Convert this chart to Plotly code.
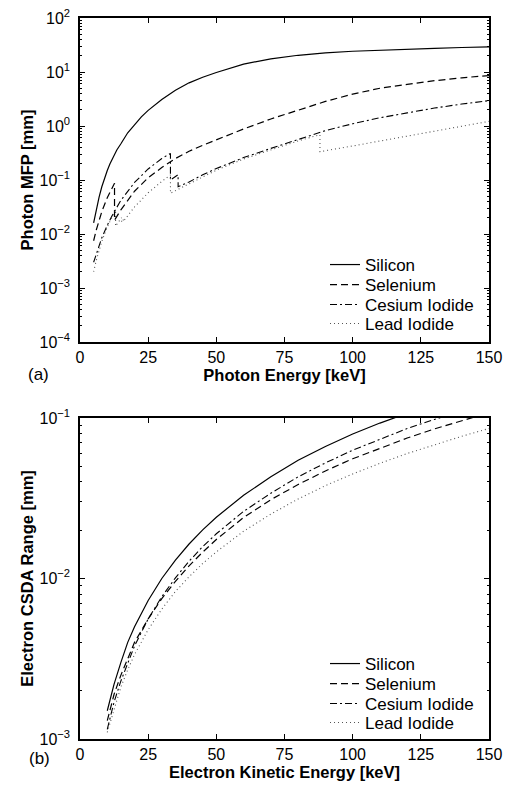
import plotly.graph_objects as go

# ---------------- (a) Photon mean free path ----------------
si_e_a = [5, 5.5, 6, 6.5, 7, 8, 9, 10, 11, 12, 13.5, 15, 17.5, 20, 22.5, 25, 30, 35, 40, 45, 50, 60, 70, 80,
          90, 100, 110, 120, 130, 140, 150]
si_mfp = [0.016, 0.022, 0.030, 0.038, 0.048, 0.075, 0.108, 0.15, 0.20, 0.26, 0.36, 0.47, 0.75, 1.05, 1.48,
          1.95, 3.1, 4.6, 6.3, 8.0, 9.8, 14.0, 17.5, 20.4, 22.6, 24.2, 25.5, 26.6, 27.5, 28.4, 29.3]

se_e_a = [5, 6, 8, 10, 12.66, 12.66, 15, 20, 25, 30, 35, 40, 45, 50, 60, 70, 80, 90, 100, 110, 120, 130, 140, 150]
se_mfp = [0.0075, 0.012, 0.026, 0.047, 0.087, 0.018, 0.028, 0.062, 0.11, 0.17, 0.25, 0.34, 0.44, 0.56, 0.88,
          1.35, 1.95, 2.85, 3.9, 5.0, 5.9, 6.9, 7.8, 8.6]

csi_e_a = [5, 6, 8, 10, 12, 15, 20, 25, 30, 33.17, 33.17, 35.98, 35.98, 40, 45, 50, 60, 70, 80, 90, 100, 110,
           120, 130, 140, 150]
csi_mfp = [0.003, 0.0043, 0.0085, 0.0145, 0.023, 0.042, 0.09, 0.16, 0.25, 0.31, 0.1, 0.125, 0.075, 0.092,
           0.125, 0.163, 0.26, 0.385, 0.56, 0.82, 1.1, 1.42, 1.75, 2.15, 2.55, 2.95]

pbi_e_a = [5, 6, 8, 10, 13.04, 13.04, 15.2, 15.2, 15.86, 15.86, 20, 25, 30, 33.17, 33.17, 40, 50, 60, 70, 80,
           88.0, 88.0, 100, 110, 120, 130, 140, 150]
pbi_mfp = [0.002, 0.0033, 0.0073, 0.0135, 0.028, 0.014, 0.020, 0.017, 0.019, 0.017, 0.0317, 0.058, 0.094,
           0.124, 0.057, 0.085, 0.152, 0.245, 0.365, 0.53, 0.69, 0.335, 0.427, 0.526, 0.649, 0.80, 0.986, 1.22]

# ---------------- (b) Electron CSDA range ----------------
el_e = [10, 12.5, 15, 17.5, 20, 25, 30, 35, 40, 45, 50, 60, 70, 80, 90, 100, 110, 120, 130, 140, 150]
si_csda = [0.0015, 0.0022, 0.0030, 0.0040, 0.0050, 0.0073, 0.0100, 0.0130, 0.0164, 0.0201, 0.0241, 0.0330,
           0.0430, 0.0545, 0.0665, 0.0795, 0.0930, 0.1075, 0.123, 0.139, 0.156]
se_csda = [0.0013, 0.0019, 0.0025, 0.0032, 0.0040, 0.0056, 0.0075, 0.0096, 0.0120, 0.0146, 0.0175, 0.0240,
           0.031, 0.0385, 0.0468, 0.0557, 0.065, 0.075, 0.0855, 0.0965, 0.108]
csi_csda = [0.00115, 0.0017, 0.0023, 0.0030, 0.0038, 0.0056, 0.0077, 0.0101, 0.0128, 0.0158, 0.019, 0.0262,
            0.034, 0.043, 0.0525, 0.063, 0.074, 0.086, 0.098, 0.111, 0.125]
pbi_csda = [0.0011, 0.0015, 0.00211, 0.0027, 0.00336, 0.0048, 0.00645, 0.0083, 0.01025, 0.0124, 0.01465,
            0.0197, 0.0252, 0.0313, 0.0379, 0.0448, 0.0522, 0.0601, 0.0682, 0.0769, 0.0861]

names = ["Silicon", "Selenium", "Cesium Iodide", "Lead Iodide"]
x_ticks = [0, 25, 50, 75, 100, 125, 150]

styles = [
    dict(color="black", width=1.2, dash="solid"),
    dict(color="black", width=1.2, dash="7px,4px"),
    dict(color="black", width=1.1, dash="7px,3px,2px,3px"),
    dict(color="#555555", width=1.1, dash="1px,3px"),
]

W, H = 508, 785
ML, MR, MT, MB = 80, 19, 18, 46
PW, PH = W - ML - MR, H - MT - MB


def px(x):
    return (x - ML) / PW


def py(y):
    return (H - MB - y) / PH


fig = go.Figure()
top = [(si_e_a, si_mfp), (se_e_a, se_mfp), (csi_e_a, csi_mfp), (pbi_e_a, pbi_mfp)]
bot = [si_csda, se_csda, csi_csda, pbi_csda]
legend_layout = {}
top_rows = [265, 285, 305, 324]
bot_rows = [664, 684, 704, 723]
for i, ((xs, ys), nm, st) in enumerate(zip(top, names, styles)):
    key = "legend" if i == 0 else "legend%d" % (i + 1)
    fig.add_trace(go.Scatter(x=xs, y=ys, mode="lines", name=nm, line=st, showlegend=True,
                             xaxis="x", yaxis="y", legend=key))
    legend_layout[key] = dict(x=px(325), y=py(top_rows[i]), xanchor="left", yanchor="middle",
                              bgcolor="rgba(0,0,0,0)", font=dict(size=17), itemwidth=30, visible=True)
for i, (ys, nm, st) in enumerate(zip(bot, names, styles)):
    key = "legend%d" % (i + 5)
    fig.add_trace(go.Scatter(x=el_e, y=ys, mode="lines", name=nm, line=st, showlegend=True,
                             xaxis="x2", yaxis="y2", legend=key))
    legend_layout[key] = dict(x=px(325), y=py(bot_rows[i]), xanchor="left", yanchor="middle",
                              bgcolor="rgba(0,0,0,0)", font=dict(size=17), itemwidth=30, visible=True)


def sup(n):
    return "10<sup>" + (str(n) if n >= 0 else "\u2212" + str(-n)) + "</sup>"


def minors(lo, hi):
    return [k * 10.0 ** d for d in range(lo, hi) for k in range(2, 10)]


FONT = "Liberation Sans, Arial, Helvetica, sans-serif"
common_x = dict(range=[0, 150], tickmode="array", tickvals=x_ticks, ticks="inside", ticklen=5,
                tickcolor="black", showline=True, linecolor="black", linewidth=1.5, mirror="allticks",
                showgrid=False, zeroline=False, tickfont=dict(size=16), ticklabelstandoff=0)
common_y = dict(type="log", ticks="inside", ticklen=5, tickcolor="black", showline=True, linecolor="black",
                linewidth=1.5, mirror="allticks", showgrid=False, zeroline=False, tickfont=dict(size=16),
                ticklabelstandoff=5)

fig.update_layout(
    width=W, height=H, margin=dict(l=ML, r=MR, t=MT, b=MB, autoexpand=False),
    paper_bgcolor="white", plot_bgcolor="white", showlegend=True,
    font=dict(family=FONT, size=16, color="black"),
    xaxis=dict(common_x, domain=[0, 1], anchor="y",
               title=dict(text="<b>Photon Energy [keV]</b>", font=dict(size=16.5), standoff=0)),
    yaxis=dict(common_y, domain=[py(342), 1], anchor="x", range=[-4, 2],
               tickmode="array", tickvals=[10.0 ** k for k in range(-4, 3)],
               ticktext=[sup(k) for k in range(-4, 3)],
               minor=dict(tickmode="array", tickvals=minors(-4, 2), ticks="inside", ticklen=2.5,
                          tickcolor="black", showgrid=False),
               title=dict(text="<b>Photon MFP [mm]</b>", font=dict(size=16.5), standoff=2)),
    xaxis2=dict(common_x, domain=[0, 1], anchor="y2",
                title=dict(text="<b>Electron Kinetic Energy [keV]</b>", font=dict(size=16.5), standoff=0)),
    yaxis2=dict(common_y, domain=[0, py(418)], anchor="x2", range=[-3, -1],
                tickmode="array", tickvals=[1e-3, 1e-2, 1e-1],
                ticktext=[sup(-3), sup(-2), sup(-1)],
                minor=dict(tickmode="array", tickvals=minors(-3, -1), ticks="inside", ticklen=2.5,
                           tickcolor="black", showgrid=False),
                title=dict(text="<b>Electron CSDA Range [mm]</b>", font=dict(size=16.5), standoff=2)),
    annotations=[
        dict(text="(a)", x=px(26), y=py(374), xref="paper", yref="paper", showarrow=False,
             font=dict(size=17)),
        dict(text="(b)", x=px(27), y=py(770), xref="paper", yref="paper", showarrow=False,
             font=dict(size=17)),
    ],
    **legend_layout,
)

fig.write_html("out.html")
